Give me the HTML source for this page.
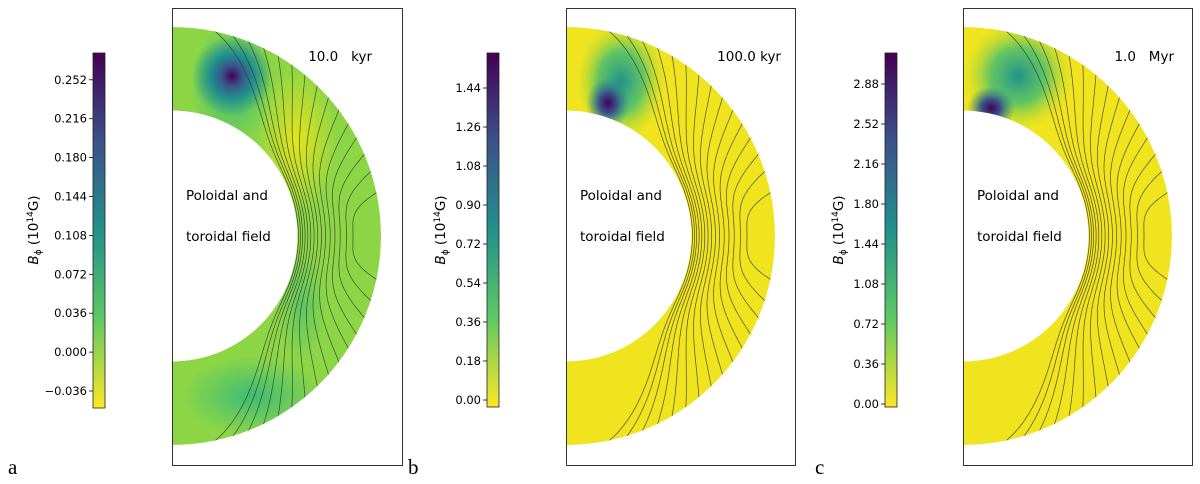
<!DOCTYPE html>
<html><head><meta charset="utf-8"><style>
body{margin:0;background:#fff}
svg{display:block;font-family:"DejaVu Sans","Liberation Sans",sans-serif}
text{white-space:pre}
</style></head><body>
<svg id="fig" width="1200" height="484" viewBox="0 0 1200 484">
<defs>
<linearGradient id="viridis" x1="0" y1="1" x2="0" y2="0">
<stop offset="0" stop-color="#fde725"/><stop offset="0.25" stop-color="#5ec962"/>
<stop offset="0.5" stop-color="#21918c"/><stop offset="0.75" stop-color="#3b528b"/>
<stop offset="1" stop-color="#440154"/></linearGradient>
<radialGradient id="blobA"><stop offset="0" stop-color="#440154"/><stop offset="0.25" stop-color="#3b528b"/><stop offset="0.55" stop-color="#21918c"/><stop offset="1" stop-color="#21918c" stop-opacity="0"/></radialGradient>
<radialGradient id="yelA"><stop offset="0" stop-color="#e4e419"/><stop offset="1" stop-color="#e4e419" stop-opacity="0"/></radialGradient>
<radialGradient id="tealA"><stop offset="0" stop-color="#3dbc74"/><stop offset="1" stop-color="#3dbc74" stop-opacity="0"/></radialGradient>
<radialGradient id="core"><stop offset="0" stop-color="#440154"/><stop offset="0.4" stop-color="#3b528b"/><stop offset="1" stop-color="#21918c" stop-opacity="0"/></radialGradient>
<radialGradient id="halo"><stop offset="0" stop-color="#21918c"/><stop offset="0.5" stop-color="#3fbc73" stop-opacity="0.8"/><stop offset="1" stop-color="#b5de2b" stop-opacity="0"/></radialGradient>
</defs>
<g id="panels"></g>
</svg>
<script>
const NS="http://www.w3.org/2000/svg";
// data
const panelLetters=["a","b","c"];
const timeLabels=["10.0   kyr","100.0 kyr","1.0   Myr"];
const ticksA=[-0.036,0.000,0.036,0.072,0.108,0.144,0.180,0.216,0.252];
const ticksB=[0.00,0.18,0.36,0.54,0.72,0.90,1.08,1.26,1.44];
const ticksC=[0.00,0.36,0.72,1.08,1.44,1.80,2.16,2.52,2.88];
const tickDecimals=[3,2,2];
// field lines: equatorial crossing radius (R=1) and colatitude (deg) where they exit the surface
const eqRadii=[0.605,0.615,0.625,0.637,0.65,0.664,0.68,0.697,0.715,0.735,0.757,0.78,0.805,0.835,0.866];
const exitAngles=[12,17,21.5,26,30.5,35,39.5,44,48.5,53,57.5,62,67,72,78];
// layout
const layouts=[
 {box:[172,8,230,457],cb:[93,53,12,355],t0:391,dt:38.9,lbl:33,ltr:8,time:[372,61]},
 {box:[566,8,229,457],cb:[487,53,12,354],t0:400,dt:39,lbl:440,ltr:408,time:[781,61]},
 {box:[963,8,229,457],cb:[885,53,12,354],t0:404,dt:40,lbl:838,ltr:815,time:[1174,61]}];
const tickSets=[ticksA,ticksB,ticksC];
const R=209, rIn=0.6;
const root=document.getElementById('panels');
function el(t,a,p){const e=document.createElementNS(NS,t);for(const k in a)e.setAttribute(k,a[k]);(p||root).appendChild(e);return e;}
layouts.forEach((L,i)=>{
 const g=el('g',{});
 
 
 const cx=L.box[0], cy=236;
 const d=`M${cx},${cy-R} A${R},${R} 0 0 1 ${cx},${cy+R} L${cx},${cy+R*rIn} A${R*rIn},${R*rIn} 0 0 0 ${cx},${cy-R*rIn} Z`;
 const cp=el('clipPath',{id:'clip'+i},g); el('path',{d:d},cp);
 const crust=el('g',{'clip-path':`url(#clip${i})`},g);
 
 
 el('path',{d:d,fill:i==0?'#8cd646':'#f0e41f'},crust);
 if(i==0){
  el('ellipse',{cx:cx+125,cy:cy-95,rx:40,ry:75,fill:'url(#yelA)'},crust);
  el('ellipse',{cx:cx+80,cy:cy+160,rx:70,ry:40,fill:'url(#tealA)'},crust);
  el('ellipse',{cx:cx+130,cy:cy+70,rx:25,ry:55,fill:'url(#tealA)',opacity:0.6},crust);
  el('ellipse',{cx:cx+60,cy:cy-150,rx:42,ry:65,fill:'url(#tealA)'},crust);
  el('ellipse',{cx:cx+60,cy:cy-160,rx:40,ry:40,fill:'url(#blobA)'},crust);
 } else if(i==1){
  el('ellipse',{cx:cx+55,cy:cy-155,rx:45,ry:60,fill:'url(#halo)'},crust);
  el('ellipse',{cx:cx+42,cy:cy-133,rx:22,ry:26,fill:'url(#core)'},crust);
 } else {
  el('ellipse',{cx:cx+55,cy:cy-160,rx:55,ry:55,fill:'url(#halo)'},crust);
  el('ellipse',{cx:cx+28,cy:cy-128,rx:24,ry:22,fill:'url(#core)'},crust);
 }
 const n=eqRadii.length;
 eqRadii.forEach((re,j)=>{
  const se=Math.sin(exitAngles[j]*Math.PI/180)**2;
  const q=3.2-1.2*j/(n-1);
  let pts=[];
  for(let k=0;k<=400;k++){
   const th=k/400*Math.PI; const s2=Math.sin(th)**2;
   if(s2<se-0.01) continue;
   const r=re+(1.0-re)*Math.pow((1-s2)/(1-se),q);
   pts.push((cx+R*r*Math.sin(th)).toFixed(1)+','+(cy-R*r*Math.cos(th)).toFixed(1));
  }
  const pl=el('polyline',{points:pts.join(' '),fill:'none',stroke:'#333',"stroke-width":0.7,opacity:0.85},crust);
  
  
 });
 const bx=el('rect',{x:L.box[0]+0.5,y:L.box[1]+0.5,width:L.box[2],height:L.box[3],fill:'none',stroke:'#333','stroke-width':1},g);
 
 
 const t1=el('text',{x:cx+14,y:200,'font-size':13.5,fill:'#000'},g); t1.textContent='Poloidal and';
 
 
 const t2=el('text',{x:cx+14,y:241,'font-size':13.5,fill:'#000'},g); t2.textContent='toroidal field';
 
 
 const tt=el('text',{x:L.time[0],y:L.time[1],'font-size':13.5,'text-anchor':'end',fill:'#000'},g); tt.textContent=timeLabels[i];
 
 
 const cb=el('rect',{x:L.cb[0],y:L.cb[1],width:L.cb[2],height:L.cb[3],fill:'url(#viridis)',stroke:'#222','stroke-width':0.8},g);
 
 
 const ticks=tickSets[i];
 ticks.forEach((v,j)=>{
  const step=ticks[1]-ticks[0];
  const y=L.t0-((v-ticks[0])/step)*L.dt;
  el('line',{x1:L.cb[0]-4,x2:L.cb[0],y1:y,y2:y,stroke:'#000','stroke-width':0.8},g);
  const tl=el('text',{x:L.cb[0]-6,y:y+4,'font-size':11.5,'text-anchor':'end',fill:'#000'},g);
  tl.textContent=(v<0?'\u2212':'')+Math.abs(v).toFixed(tickDecimals[i]);
  
  
 });
 const lb=el('text',{transform:`translate(${L.lbl+5},230) rotate(-90)`,'font-size':13.5,'text-anchor':'middle',fill:'#000'},g);
 lb.innerHTML='<tspan font-style="italic">B</tspan><tspan font-size="9" dy="3">ϕ</tspan><tspan dy="-3"> (10</tspan><tspan font-size="9" dy="-5">14</tspan><tspan dy="5">G)</tspan>';
 
 
 const lt=el('text',{x:L.ltr,y:474,'font-size':21,'font-family':'Liberation Serif, serif',fill:'#000'},g); lt.textContent=panelLetters[i];
 
 
});
</script>
</body></html>
